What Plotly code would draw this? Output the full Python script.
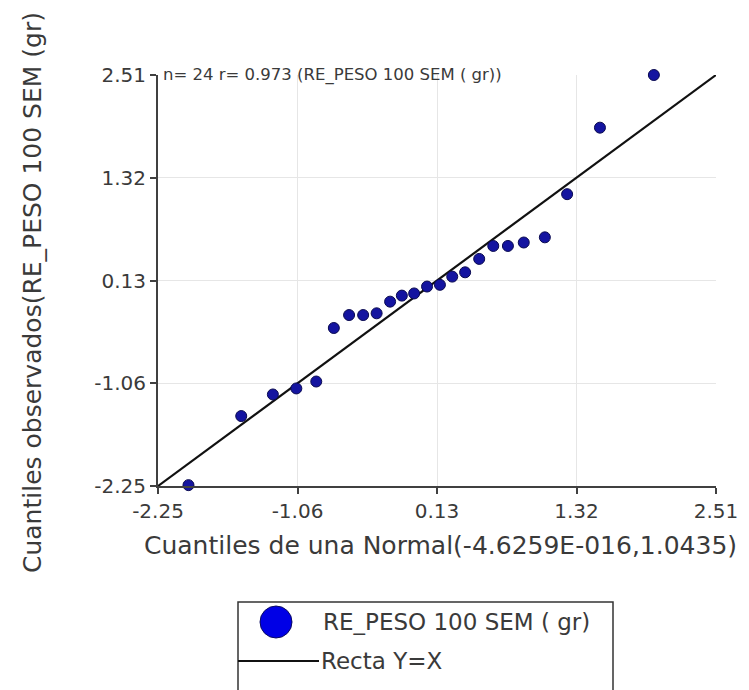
import plotly.graph_objects as go

# Theoretical normal quantiles (x) and observed quantiles (y)
normal_q = [-1.99, -1.54, -1.27, -1.07, -0.90, -0.75, -0.62, -0.50, -0.385, -0.27, -0.17, -0.065,
            0.045, 0.155, 0.26, 0.37, 0.49, 0.61, 0.735, 0.87, 1.05, 1.24, 1.52, 1.98]
observed_q = [-2.24, -1.44, -1.19, -1.12, -1.04, -0.42, -0.27, -0.27, -0.25, -0.115, -0.045, -0.02,
              0.06, 0.08, 0.175, 0.225, 0.38, 0.53, 0.53, 0.57, 0.63, 1.13, 1.90, 2.51]
line_xy = [-2.25, 2.51]
tick_vals = [-2.25, -1.06, 0.13, 1.32, 2.51]
tick_text = ["-2.25", "-1.06", "0.13", "1.32", "2.51"]

FONT = "DejaVu Sans, Verdana, sans-serif"
TXT = "#3a3a3a"

fig = go.Figure()
fig.add_trace(go.Scatter(x=line_xy, y=line_xy, mode="lines",
                         line=dict(color="#111111", width=2.2),
                         name="Recta Y=X", showlegend=False, cliponaxis=False))
fig.add_trace(go.Scatter(x=normal_q, y=observed_q, mode="markers",
                         marker=dict(size=11, color="#1414a0", line=dict(color="#0a0a50", width=1)),
                         name="RE_PESO 100 SEM ( gr)", showlegend=False, cliponaxis=False))

axis_common = dict(tickvals=tick_vals, ticktext=tick_text, showgrid=True, gridcolor="#e6e6e6",
                   gridwidth=1, zeroline=False, showline=True, linecolor="#404040", linewidth=2,
                   ticks="outside", ticklen=6, tickcolor="#404040", tickwidth=1.5,
                   tickfont=dict(family=FONT, size=20, color=TXT))

fig.update_xaxes(range=[-2.25, 2.51], **axis_common)
fig.update_yaxes(range=[-2.25, 2.51], **axis_common)

W, H = 749, 690
L, R, T, B = 150, 41, 67, 212
pw, ph = W - L - R, H - T - B
def px(x): return (x - L) / pw
def py(y): return (H - B - y) / ph

# Axis titles
fig.add_annotation(xref="paper", yref="paper", x=px(432), y=py(537), xanchor="center", yanchor="middle",
                   text="Cuantiles de una Normal(-4.6259E-016,1.0435)", showarrow=False,
                   font=dict(family=FONT, size=25, color=TXT))
fig.add_annotation(xref="paper", yref="paper", x=px(24), y=py(285), xanchor="center", yanchor="middle",
                   text="Cuantiles observados(RE_PESO 100 SEM (gr)", showarrow=False, textangle=-90,
                   font=dict(family=FONT, size=25, color=TXT))

fig.add_annotation(xref="paper", yref="paper", x=px(153), y=py(67), xanchor="left", yanchor="middle",
                   text="n= 24 r= 0.973 (RE_PESO 100 SEM ( gr))", showarrow=False,
                   font=dict(family=FONT, size=16.5, color=TXT))

# Custom legend
fig.add_shape(type="rect", xref="paper", yref="paper", x0=px(230), x1=px(605), y0=py(594), y1=py(700),
              line=dict(color="#333333", width=1.5), fillcolor="white", layer="above")
fig.add_shape(type="circle", xref="paper", yref="paper", x0=px(252), x1=px(284), y0=py(598), y1=py(630),
              line=dict(color="#0a0a60", width=1), fillcolor="#0000e6", layer="above")
fig.add_shape(type="line", xref="paper", yref="paper", x0=px(230), x1=px(311), y0=py(653), y1=py(653),
              line=dict(color="#111111", width=2.2), layer="above")
fig.add_annotation(xref="paper", yref="paper", x=px(313), y=py(614), xanchor="left", yanchor="middle",
                   text="RE_PESO 100 SEM ( gr)", showarrow=False,
                   font=dict(family=FONT, size=23, color=TXT))
fig.add_annotation(xref="paper", yref="paper", x=px(311), y=py(653), xanchor="left", yanchor="middle",
                   text="Recta Y=X", showarrow=False,
                   font=dict(family=FONT, size=23, color=TXT))

fig.update_layout(width=W, height=H, margin=dict(l=L, r=R, t=T, b=B),
                  paper_bgcolor="white", plot_bgcolor="white", showlegend=False)

fig.write_html("out.html")
